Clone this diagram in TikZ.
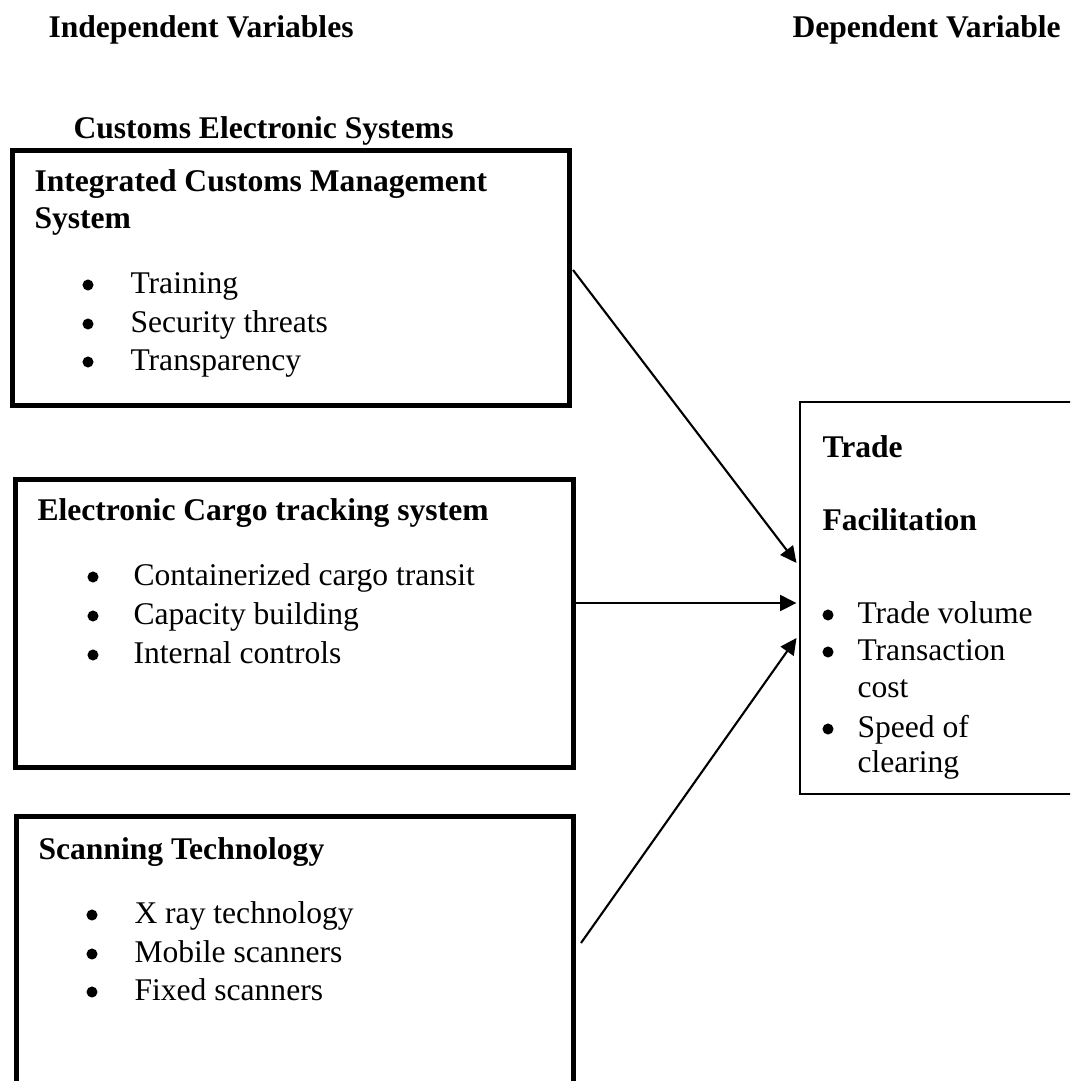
\documentclass[tikz,border=0pt]{standalone}
\usepackage{fontspec}
\setmainfont{Liberation Serif}
\usetikzlibrary{arrows.meta,fit}
\begin{document}
\begin{tikzpicture}[x=0.38pt,y=-0.38pt,
  heavybox/.style={draw,line width=1.9pt,inner sep=0pt,outer sep=0pt},
  thinbox/.style={draw,line width=0.75pt,inner sep=0pt,outer sep=0pt},
  txt/.style={anchor=base west,inner sep=0pt,font=\fontsize{12}{14}\selectfont},
  head/.style={anchor=base west,inner sep=0pt,font=\fontsize{12}{14}\selectfont\bfseries},
  dot/.style={circle,fill,inner sep=0pt,minimum size=4.2pt},
  arr/.style={line width=0.8pt,-{Triangle[length=6.2pt,width=6pt]}}]
\clip (0,0) rectangle (1070,1081);

% column headings
\node[head] (indep) at (48,38) {Independent Variables};
\node[head] (dep) at (792,38) {Dependent Variable};
\node[head] (ces) at (73,139) {Customs Electronic Systems};

% integrated customs management system
\node[heavybox,fit={(12.5,150.5) (569.5,405.5)}] (b1) {};
\node[head] (b1h1) at (34,192) {Integrated Customs Management};
\node[head] (b1h2) at (34,228) {System};
\node[dot] (b1d1) at (88,285) {};
\node[txt] (b1t1) at (130,293) {Training};
\node[dot] (b1d2) at (88,324) {};
\node[txt] (b1t2) at (130,332) {Security threats};
\node[dot] (b1d3) at (88,362) {};
\node[txt] (b1t3) at (130,370) {Transparency};

% electronic cargo tracking system
\node[heavybox,fit={(15.5,479.5) (573.5,767.5)}] (b2) {};
\node[head] (b2h) at (37,520) {Electronic Cargo tracking system};
\node[dot] (b2d1) at (93,577) {};
\node[txt] (b2t1) at (133,585) {Containerized cargo transit};
\node[dot] (b2d2) at (93,616) {};
\node[txt] (b2t2) at (133,624) {Capacity building};
\node[dot] (b2d3) at (93,655) {};
\node[txt] (b2t3) at (133,663) {Internal controls};

% scanning technology
\node[heavybox,fit={(16.5,816.5) (573.5,1100)}] (b3) {};
\node[head] (b3h) at (38,859) {Scanning Technology};
\node[dot] (b3d1) at (92,915) {};
\node[txt] (b3t1) at (134,923) {X ray technology};
\node[dot] (b3d2) at (92,954) {};
\node[txt] (b3t2) at (134,962) {Mobile scanners};
\node[dot] (b3d3) at (92,992) {};
\node[txt] (b3t3) at (134,1000) {Fixed scanners};

% trade facilitation
\node[thinbox,fit={(800,402) (1085,794)}] (b4) {};
\node[head] (b4h1) at (822,457) {Trade};
\node[head] (b4h2) at (822,530) {Facilitation};
\node[dot] (b4d1) at (828,615) {};
\node[txt] (b4t1) at (857,623) {Trade volume};
\node[dot] (b4d2) at (828,652) {};
\node[txt] (b4t2) at (857,660) {Transaction};
\node[txt] (b4t3) at (857,697) {cost};
\node[dot] (b4d3) at (828,729) {};
\node[txt] (b4t4) at (857,737) {Speed of};
\node[txt] (b4t5) at (857,772) {clearing};

% links
\draw[arr] ([shift={(3.5,-8)}]b1.east) -- ([shift={(-3.5,-35)}]b4.west);
\draw[arr] ([shift={(2.5,-20.5)}]b2.east) -- ([shift={(-3.5,5)}]b4.west);
\draw[arr] ([shift={(7.5,-15.25)}]b3.east) -- ([shift={(-3.5,40)}]b4.west);
\end{tikzpicture}
\end{document}
